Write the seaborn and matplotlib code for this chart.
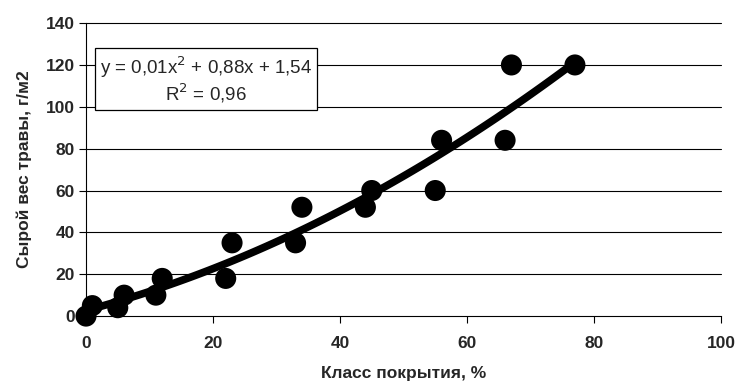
import numpy as np
import pandas as pd
import matplotlib
matplotlib.use("Agg")
import matplotlib.pyplot as plt
import seaborn as sns

# ── Data ─────────────────────────────────────────────────────────────────────
cover = [0, 1, 5, 6, 11, 12, 22, 23, 33, 34, 44, 45, 55, 56, 66, 67, 77]
weight = [0, 5, 4, 10, 10, 18, 18, 35, 35, 52, 52, 60, 60, 84, 84, 120, 120]
x_ticks = [0, 20, 40, 60, 80, 100]
y_ticks = [0, 20, 40, 60, 80, 100, 120, 140]
eq_text = "y = 0,01x$^2$ + 0,88x + 1,54\nR$^2$ = 0,96"

df = pd.DataFrame({"cover": cover, "weight": weight})

sns.set_theme(style="white")
plt.rcParams["font.family"] = ["Liberation Sans", "DejaVu Sans"]

fig = plt.figure(figsize=(7.39, 3.85), dpi=100)
ax = fig.add_axes([0.1164, 0.179, 0.8592, 0.761])

# horizontal gridlines
for y in y_ticks[1:]:
    ax.axhline(y, color="black", lw=0.8, zorder=0)

sns.regplot(
    data=df, x="cover", y="weight", order=2, ci=None, truncate=True, ax=ax,
    scatter_kws={"s": 230, "color": "black", "alpha": 1, "edgecolor": "none",
                 "zorder": 3},
    line_kws={"color": "black", "lw": 5.5, "zorder": 4},
)

ax.set_xlim(0, 100)
ax.set_ylim(0, 140)
ax.set_xticks(x_ticks)
ax.set_yticks(y_ticks)
ax.tick_params(axis="both", labelsize=12.5, length=5, width=0.8, color="black",
               direction="out", bottom=True, left=True)
ax.tick_params(axis="x", pad=9)
ax.tick_params(axis="y", pad=3)
for lab in ax.get_xticklabels() + ax.get_yticklabels():
    lab.set_fontweight("bold")
for c in ax.collections + ax.lines:
    c.set_clip_on(False)

sns.despine(ax=ax, top=True, right=True)
for s in ["left", "bottom"]:
    ax.spines[s].set_color("black")
    ax.spines[s].set_linewidth(0.8)

ax.set_xlabel("Класс покрытия, %", fontsize=12.5, fontweight="bold", labelpad=11)
ax.set_ylabel("Сырой вес травы, г/м2", fontsize=12.5, fontweight="bold", labelpad=10)

ax.text(18.9, 113, eq_text, fontsize=13.5,
        ha="center", va="center", linespacing=1.1, zorder=5,
        bbox=dict(boxstyle="square,pad=0.25", facecolor="white",
                  edgecolor="black", lw=0.9))

fig.savefig("out.png", dpi=100)
